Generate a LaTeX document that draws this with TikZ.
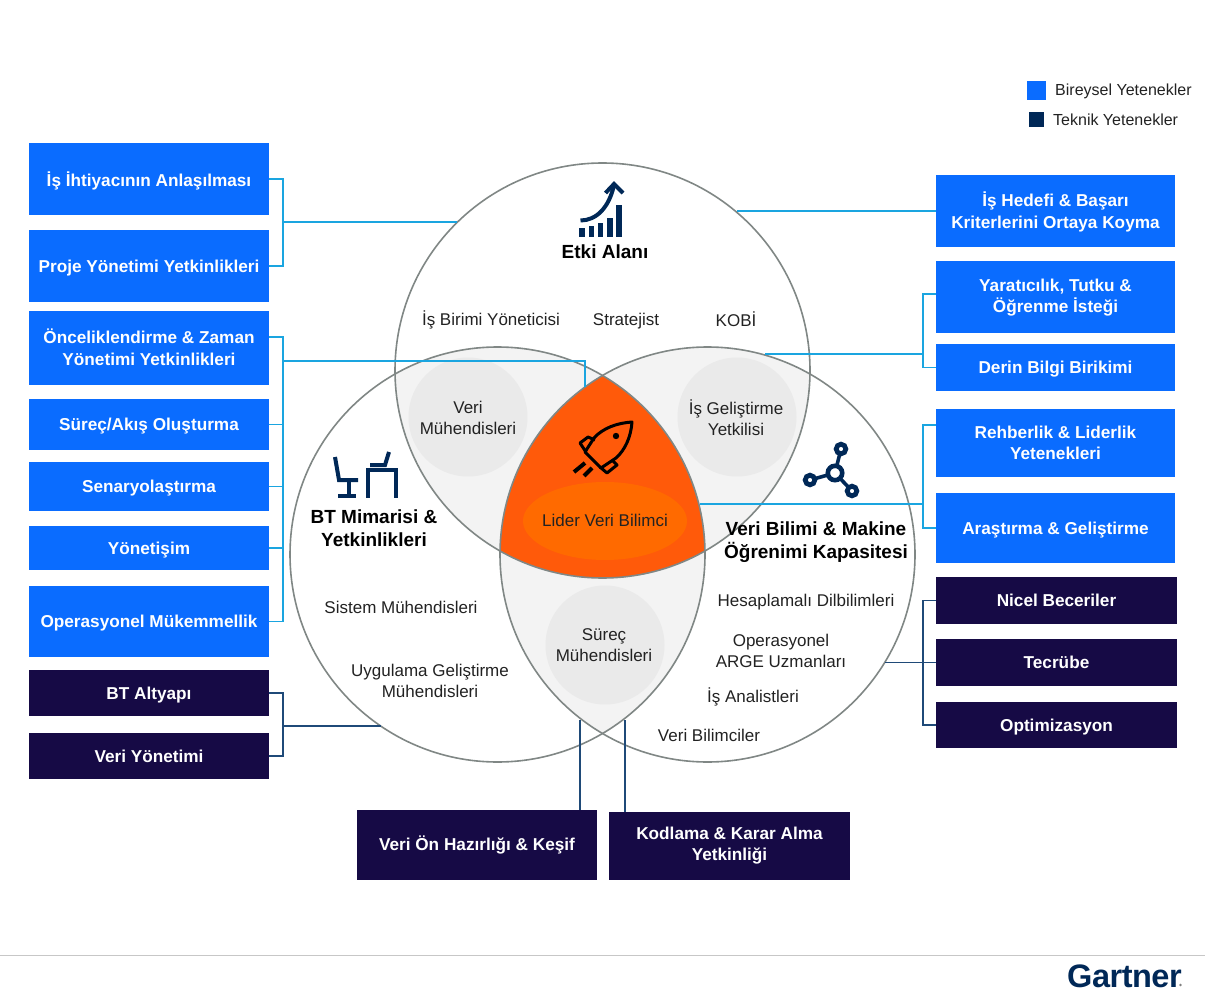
\documentclass[tikz,border=0pt]{standalone}
\usepackage{fontspec}
\setmainfont{Liberation Sans}
\definecolor{bluebox}{HTML}{0A6CFF}
\definecolor{darkbox}{HTML}{160A45}
\definecolor{navy}{HTML}{002857}
\definecolor{cyanln}{HTML}{1AA5E0}
\definecolor{darkln}{HTML}{1F4A78}
\definecolor{lens}{HTML}{F3F3F3}
\definecolor{inner}{HTML}{EAEAEA}
\definecolor{orangeA}{HTML}{FF5A0A}
\definecolor{orangeB}{HTML}{FF6A00}
\definecolor{ring}{HTML}{808785}
\definecolor{ink}{HTML}{222222}
\tikzset{
  x=1pt,y=-1pt,
  boxbase/.style={inner sep=0pt,align=center,text=white,minimum width=240pt,text depth=0pt,
    font=\fontsize{17.2}{21.5}\selectfont\bfseries},
  softbox/.style={boxbase,fill=bluebox},
  techbox/.style={boxbase,fill=darkbox},
  softline/.style={draw=cyanln,line width=1.5pt},
  techline/.style={draw=darkln,line width=1.5pt},
  role/.style={inner sep=0pt,align=center,text=ink,font=\fontsize{17}{21}\selectfont},
  head/.style={inner sep=0pt,align=center,text=black,font=\fontsize{19}{23}\selectfont\bfseries},
  icon/.style={draw=navy,line width=4pt},
  ringline/.style={draw=ring,line width=1.6pt}
}
\begin{document}
\begin{tikzpicture}
\useasboundingbox (0,0) rectangle (1205,1000);
% Venn fills
\begin{scope}
  \clip (602.5,370.5) circle[radius=207.5pt];
  \fill[lens] (497.5,554.5) circle[radius=207.5pt];
  \fill[lens] (707.5,554.5) circle[radius=207.5pt];
\end{scope}
\begin{scope}
  \clip (497.5,554.5) circle[radius=207.5pt];
  \fill[lens] (707.5,554.5) circle[radius=207.5pt];
  \clip (707.5,554.5) circle[radius=207.5pt];
  \fill[orangeA] (602.5,370.5) circle[radius=207.5pt];
\end{scope}
\node[fill=inner,circle,minimum size=119pt,inner sep=0pt] (gL) at (468,417) {};
\node[fill=inner,circle,minimum size=119pt,inner sep=0pt] (gR) at (737,417) {};
\node[fill=inner,circle,minimum size=119pt,inner sep=0pt] (gB) at (605,645) {};
\fill[orangeB] (605,521) ellipse[x radius=82pt,y radius=39pt];
\draw[ringline] (602.5,370.5) circle[radius=207.5pt];
\draw[ringline] (497.5,554.5) circle[radius=207.5pt];
\draw[ringline] (707.5,554.5) circle[radius=207.5pt];

% Left boxes
\node[softbox,minimum height=72pt] (b1) at (149,179) {İş İhtiyacının Anlaşılması};
\node[softbox,minimum height=72pt] (b2) at (149,266) {Proje Yönetimi Yetkinlikleri};
\node[softbox,minimum height=74pt,text depth=2pt] (b3) at (149,348) {Önceliklendirme \& Zaman\\Yönetimi Yetkinlikleri};
\node[softbox,minimum height=51pt] (b4) at (149,424.5) {Süreç/Akış Oluşturma};
\node[softbox,minimum height=49pt] (b5) at (149,486.5) {Senaryolaştırma};
\node[softbox,minimum height=44pt] (b6) at (149,548) {Yönetişim};
\node[softbox,minimum height=71pt] (b7) at (149,621.5) {Operasyonel Mükemmellik};
\node[techbox,minimum height=46pt] (b8) at (149,693) {BT Altyapı};
\node[techbox,minimum height=46pt] (b9) at (149,756) {Veri Yönetimi};
% Right boxes
\node[softbox,minimum width=239pt,minimum height=72pt,text depth=2pt] (r1) at (1055.5,211) {İş Hedefi \& Başarı\\Kriterlerini Ortaya Koyma};
\node[softbox,minimum width=239pt,minimum height=72pt,text depth=2pt] (r2) at (1055.5,297) {Yaratıcılık, Tutku \&\\Öğrenme İsteği};
\node[softbox,minimum width=239pt,minimum height=47pt] (r3) at (1055.5,367.5) {Derin Bilgi Birikimi};
\node[softbox,minimum width=239pt,minimum height=68pt] (r4) at (1055.5,443) {Rehberlik \& Liderlik\\Yetenekleri};
\node[softbox,minimum width=239pt,minimum height=70pt] (r5) at (1055.5,528) {Araştırma \& Geliştirme};
\node[techbox,minimum width=241pt,minimum height=47pt] (r6) at (1056.5,600.5) {Nicel Beceriler};
\node[techbox,minimum width=241pt,minimum height=47pt] (r7) at (1056.5,662.5) {Tecrübe};
\node[techbox,minimum width=241pt,minimum height=46pt] (r8) at (1056.5,725) {Optimizasyon};
% Bottom boxes
\node[techbox,minimum height=70pt,text depth=4pt] (d1) at (477,845) {Veri Ön Hazırlığı \& Keşif};
\node[techbox,minimum width=241pt,minimum height=68pt,text depth=4pt] (d2) at (729.5,846) {Kodlama \& Karar Alma\\Yetkinliği};

% Connector junctions
\coordinate (tA) at (283,222); \coordinate (eA) at (457,222);
\coordinate (s3) at (269,337); \coordinate (tB) at (283,361); \coordinate (eB) at (585,387);
\coordinate (tC) at (283,726); \coordinate (eC) at (381,726);
\coordinate (eR1) at (737,211);
\coordinate (s2) at (936,294); \coordinate (tD) at (923,354); \coordinate (eD) at (765,354);
\coordinate (s4) at (936,425); \coordinate (tE) at (923,504); \coordinate (eE) at (700,504);
\coordinate (tF) at (923,662.5); \coordinate (eF) at (885,662.5);
\coordinate (eG) at (580,720); \coordinate (eH) at (625,720);
% Soft connectors
\draw[softline] (b1.east) -| (tA) |- (b2.east);
\draw[softline] (tA) -- (eA);
\draw[softline] (s3) -| (tB) |- (b7.east);
\draw[softline] (tB) -| (eB);
\draw[softline] (b4.east) -- (b4.east -| tB);
\draw[softline] (b5.east) -- (b5.east -| tB);
\draw[softline] (b6.east) -- (b6.east -| tB);
\draw[softline] (r1.west) -- (eR1);
\draw[softline] (s2) -| (tD) |- (r3.west);
\draw[softline] (tD) -- (eD);
\draw[softline] (s4) -| (tE) |- (r5.west);
\draw[softline] (tE) -- (eE);
% Technical connectors
\draw[techline] (b8.east) -| (tC) |- (b9.east);
\draw[techline] (tC) -- (eC);
\draw[techline] (r6.west) -| (tF) |- (r8.west);
\draw[techline] (eF) -- (r7.west);
\draw[techline] (eG) -- (eG |- d1.north);
\draw[techline] (eH) -- (eH |- d2.north);

% Circle texts
\node[head] (hT) at (605,252) {Etki Alanı};
\node[head] (hL) at (374,528) {BT Mimarisi \&\\Yetkinlikleri};
\node[head] (hR) at (816,542) {Veri Bilimi \& Makine\\Öğrenimi Kapasitesi};
\node[role] (t1) at (491,320) {İş Birimi Yöneticisi};
\node[role] (t2) at (626,321) {Stratejist};
\node[role] (t3) at (736,319) {KOBİ};
\node[role] (t4) at (468,418) {Veri\\Mühendisleri};
\node[role] (t5) at (736,418) {İş Geliştirme\\Yetkilisi};
\node[role] (t6) at (605,520.5) {Lider Veri Bilimci};
\node[role] (t7) at (604,645) {Süreç\\Mühendisleri};
\node[role] (t8) at (401,607) {Sistem Mühendisleri};
\node[role] (t9) at (430,681) {Uygulama Geliştirme\\Mühendisleri};
\node[role] (t10) at (806,602) {Hesaplamalı Dilbilimleri};
\node[role] (t11) at (781,651) {Operasyonel\\ARGE Uzmanları};
\node[role] (t12) at (753,697) {İş Analistleri};
\node[role] (t13) at (709,735) {Veri Bilimciler};

% Chart icon
\foreach \bx/\by in {582/228,591.5/226,600.5/223,610/218,619/205}
  \fill[navy] (\bx-2.7,\by) rectangle (\bx+2.7,237);
\draw[icon,line cap=butt] (580.5,220.5) .. controls (596,220.5) and (609,208) .. (614,185);
\draw[icon,line cap=butt,line join=miter] (605.5,193) -- (614,184) -- (623,193);

% Desk icon
\draw[icon,line join=miter] (335,457) -- (339,480) -- (358,480);
\draw[icon] (349,480) -- (349,496);
\draw[icon] (338,496) -- (356,496);
\draw[icon] (367.5,497.5) -- (367.5,470) -- (396,470) -- (396,497.5);
\draw[icon] (370,465) -- (385,465) -- (389,452);

% Network icon
\draw[icon,line width=3.6pt] (835,473) -- (841,449) (835,473) -- (810,480) (835,473) -- (852,491);
\draw[icon,line width=4.6pt,fill=white] (835,473) circle[radius=7.2pt];
\draw[icon,line width=4.8pt,fill=white] (841,449) circle[radius=4.8pt];
\draw[icon,line width=4.8pt,fill=white] (810,480) circle[radius=4.8pt];
\draw[icon,line width=4.8pt,fill=white] (852,491) circle[radius=4.8pt];

% Rocket icon
\begin{scope}[draw=black,line width=3pt,line join=round]
  \draw (632,422) .. controls (617,423) and (603,428) .. (594,438) -- (585,452) -- (601,468)
        -- (616,458) .. controls (625,450) and (631,437) .. (632,422) -- cycle;
  \draw (595,440) -- (588,437) -- (580,443) -- (586,452);
  \draw (612,460) -- (617,465) -- (607,473) -- (600,467);
  \fill[black] (616,436) circle[radius=3.2pt];
  \draw[line width=4pt] (574,472) -- (585,463);
  \draw[line width=4pt] (584,476) -- (592,468);
\end{scope}

% Legend
\node[fill=bluebox,minimum size=19pt,inner sep=0pt] (lgA) at (1036.5,90.5) {};
\node[fill=navy,minimum size=15pt,inner sep=0pt] (lgB) at (1036.5,119.5) {};
\node[role,anchor=west,text=ink,font=\fontsize{16}{18}\selectfont] (lgAt) at (1055,91) {Bireysel Yetenekler};
\node[role,anchor=west,text=ink,font=\fontsize{16}{18}\selectfont] (lgBt) at (1053,120) {Teknik Yetenekler};

% Footer
\draw[draw=black!22,line width=1pt] (0,955.5) -- (1205,955.5);
\node[inner sep=0pt,anchor=west,text=navy,font=\fontsize{32.5}{34}\selectfont\bfseries] (gt) at (1067,976) {\addfontfeature{LetterSpace=-1.5}Gartner};
\fill[gray] (1180.5,985) circle[radius=1.4pt];
\end{tikzpicture}
\end{document}
